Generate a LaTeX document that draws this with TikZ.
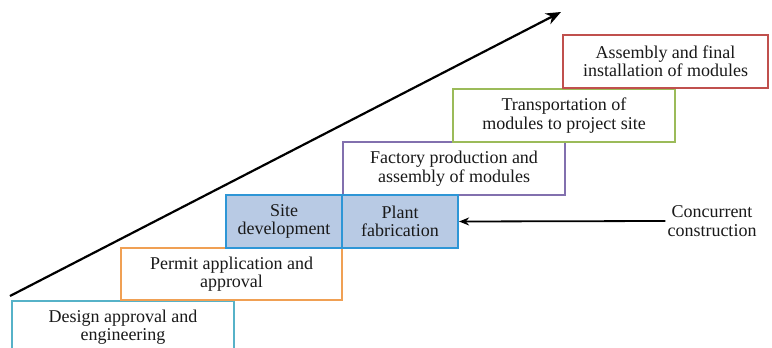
\documentclass[tikz,border=0pt]{standalone}
\usepackage{fontspec}
\setmainfont{Liberation Serif}
\usepackage{tikz}
\usetikzlibrary{arrows.meta,positioning}
\definecolor{designteal}{RGB}{86,178,200}
\definecolor{permitorange}{RGB}{240,160,84}
\definecolor{siteblue}{RGB}{46,150,214}
\definecolor{sitefill}{RGB}{184,202,228}
\definecolor{factorypurple}{RGB}{130,112,174}
\definecolor{transgreen}{RGB}{155,187,89}
\definecolor{assemblyred}{RGB}{192,80,77}
\tikzset{
  stagebox/.style={draw, line width=1.6pt, fill=white,
    minimum width=222pt, minimum height=53pt, inner sep=2pt,
    align=center, font=\fontsize{18}{18.5}\selectfont, text=black!90},
  concbox/.style={stagebox, draw=siteblue, fill=sitefill, line width=2.2pt,
    minimum width=116pt},
  arr/.style={-{Stealth[length=15pt, width=12pt]}, line width=2.2pt},
  sarr/.style={-{Stealth[length=10pt, width=8pt]}, line width=1.8pt},
}

\begin{document}
\begin{tikzpicture}[x=1pt, y=-1pt]
  \useasboundingbox[fill=white] (0,0) rectangle (772,348);

  % Staircase of stages
  \node[stagebox, draw=designteal, minimum height=52pt] (design) at (123,327)
    {Design approval and\\engineering};
  \node[stagebox, draw=permitorange, minimum width=221pt, minimum height=52pt] (permit) at (231.5,274)
    {Permit application and\\approval};
  \node[stagebox, draw=factorypurple] (factory) at (454,168.5)
    {Factory production and\\assembly of modules};
  \node[stagebox, draw=transgreen] (transport) at (564,115.5)
    {Transportation of\\modules to project site};
  \node[stagebox, draw=assemblyred, minimum width=205pt] (assembly) at (665.5,61.5)
    {Assembly and final\\installation of modules};

  % Concurrent pair
  \node[concbox] (site) at (284,221.5) {Site\\development};
  \node[concbox] (plant) at (400,221.5) {Plant\\fabrication};

  \node[font=\fontsize{18}{18.5}\selectfont, text=black!90, align=center,
        inner sep=2pt] (conc) at (712,221) {Concurrent\\construction};
  \draw[sarr] (conc.west) -- (plant.east);

  % Progress arrow
  \coordinate (pstart) at (10,296);
  \coordinate (pend) at (561,12);
  \draw[arr] (pstart) -- (pend);
\end{tikzpicture}
\end{document}
